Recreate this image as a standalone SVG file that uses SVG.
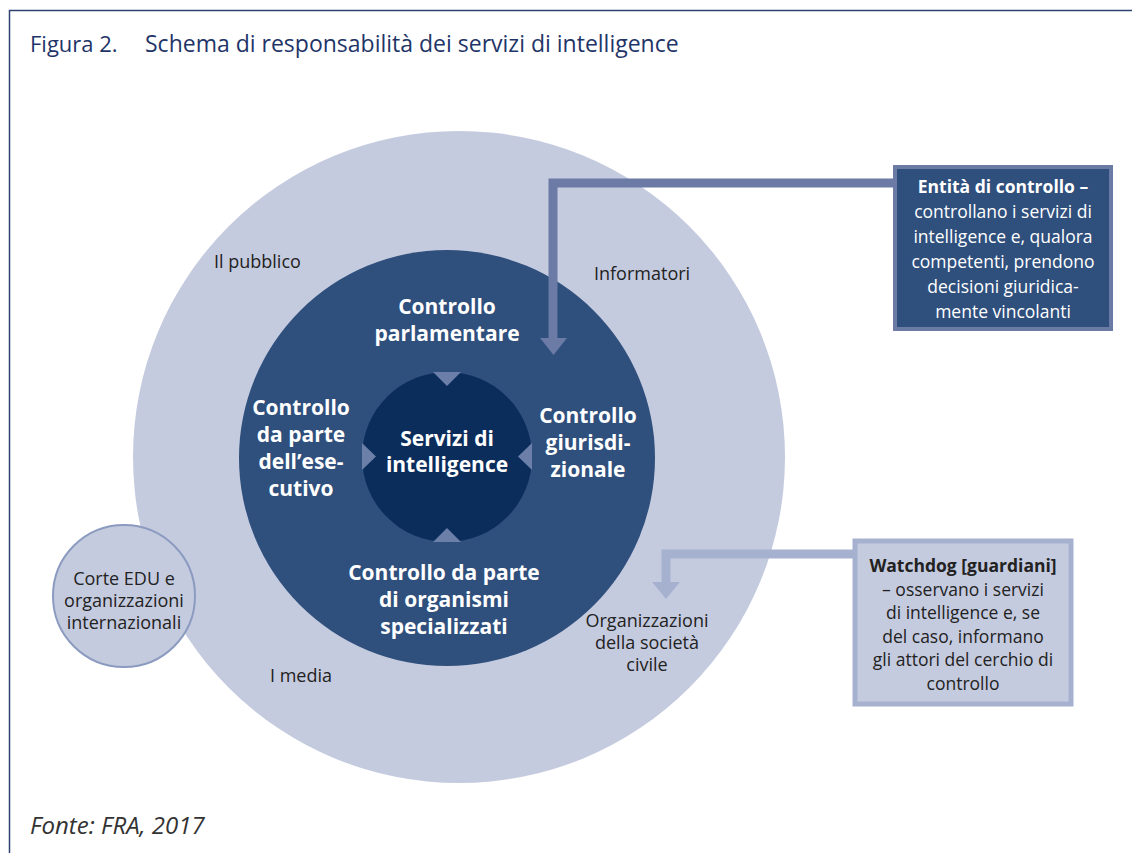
<svg xmlns="http://www.w3.org/2000/svg" width="1132" height="853" viewBox="0 0 1132 853">
<style>
text{font-family:"Open Sans","Liberation Sans",sans-serif}
.t{font-size:18px;fill:#222;text-anchor:middle}
.tl{font-size:18px;fill:#222}
.b{font-size:17.5px;fill:#222;text-anchor:middle}
.w{font-size:21px;font-weight:bold;fill:#fff;text-anchor:middle}
.bw{font-size:17.5px;fill:#fff;text-anchor:middle}
.tri{fill:#6b7fa9}
</style>
<rect width="1132" height="853" fill="#fff"/>
<path d="M9.5 853 V10.5 H1132" fill="none" stroke="#2f4370" stroke-width="1.5"/>
<text x="30" y="52" style="font-size:22px;fill:#1f3568">Figura 2.</text>
<text x="145" y="52" style="font-size:23px;fill:#1f3568">Schema di responsabilità dei servizi di intelligence</text>

<g id="outer">
<circle cx="459" cy="457" r="326" fill="#c5cbdf"/>
<text class="tl" x="214" y="268">Il pubblico</text>
<text class="tl" x="594" y="280">Informatori</text>
<text class="tl" x="270" y="682">I media</text>
<text class="t" x="647" y="627">Organizzazioni</text>
<text class="t" x="647" y="649">della società</text>
<text class="t" x="647" y="671">civile</text>
</g>
<g id="middle">
<circle cx="447" cy="458" r="208" fill="#2f4f7d"/>
<text class="w" x="447" y="314">Controllo</text>
<text class="w" x="447" y="341">parlamentare</text>
<text class="w" x="301" y="415">Controllo</text>
<text class="w" x="301" y="442">da parte</text>
<text class="w" x="301" y="469">dell’ese-</text>
<text class="w" x="301" y="496">cutivo</text>
<text class="w" x="588" y="423">Controllo</text>
<text class="w" x="588" y="450">giurisdi-</text>
<text class="w" x="588" y="477">zionale</text>
<text class="w" x="444" y="580">Controllo da parte</text>
<text class="w" x="444" y="607">di organismi</text>
<text class="w" x="444" y="634">specializzati</text>
</g>
<g id="inner">
<circle cx="447" cy="457" r="85" fill="#0a2d5c"/>
<polygon class="tri" points="433,372 461,372 447,386"/>
<polygon class="tri" points="433,542 461,542 447,528"/>
<polygon class="tri" points="362,443 362,470 376,456.5"/>
<polygon class="tri" points="532,443 532,470 518,456.5"/>
<text class="w" x="447" y="446">Servizi di</text>
<text class="w" x="447" y="472">intelligence</text>
</g>
<g id="corte">
<circle cx="124" cy="596" r="71" fill="#c5cbdf" stroke="#8b9bc0" stroke-width="2"/>
<text class="t" x="124" y="585">Corte EDU e</text>
<text class="t" x="124" y="607">organizzazioni</text>
<text class="t" x="124" y="629">internazionali</text>
</g>
<g id="connectors">
<path d="M895 183 H553 V338" fill="none" stroke="#6b7ba6" stroke-width="9"/>
<polygon points="540,338 567,338 553.5,355" fill="#6b7ba6"/>
<path d="M855 554 H666 V582" fill="none" stroke="#a6b1d0" stroke-width="9"/>
<polygon points="652,582 680,582 666,599" fill="#a6b1d0"/>
</g>
<g id="box1">
<rect x="895" y="167" width="216" height="162" fill="#2f4f7d" stroke="#6b7ba6" stroke-width="4"/>
<text class="bw" x="1003" y="193" font-weight="bold">Entità di controllo –</text>
<text class="bw" x="1003" y="218">controllano i servizi di</text>
<text class="bw" x="1003" y="243">intelligence e, qualora</text>
<text class="bw" x="1003" y="268">competenti, prendono</text>
<text class="bw" x="1003" y="293">decisioni giuridica-</text>
<text class="bw" x="1003" y="318">mente vincolanti</text>
</g>
<g id="box2">
<rect x="855" y="541" width="216" height="163" fill="#c5cbdf" stroke="#a6b1d0" stroke-width="5"/>
<text class="b" x="963" y="572" font-weight="bold">Watchdog [guardiani]</text>
<text class="b" x="963" y="595.5">– osservano i servizi</text>
<text class="b" x="963" y="619">di intelligence e, se</text>
<text class="b" x="963" y="642.5">del caso, informano</text>
<text class="b" x="963" y="666">gli attori del cerchio di</text>
<text class="b" x="963" y="690">controllo</text>
</g>
<text x="30" y="834" style="font-size:24px;font-style:italic;fill:#333">Fonte: FRA, 2017</text>
</svg>
